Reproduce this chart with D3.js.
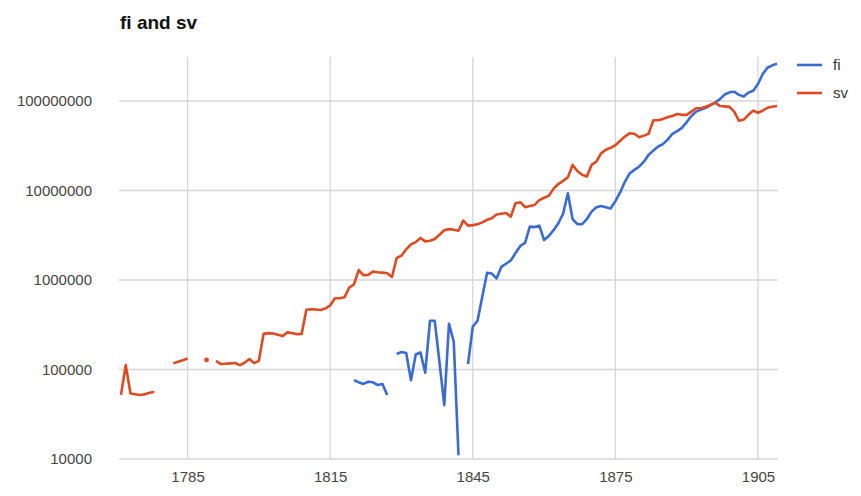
<!DOCTYPE html>
<html>
    <head>
        <meta charset="UTF-8">
        <script src="https://d3js.org/d3.v7.min.js"></script>
        <style>
            body { margin: 0; background: #fff; }
            text { font-family: "Liberation Sans", Arial, sans-serif; }
        </style>
    </head>

    <body>

        <svg id="canvas"></svg>

        <script>

            width = 861;
            height = 496;

            // one value per year, 1771 .. 1909 (null = no data)
            firstYear = 1771;
            lastYear = 1909;

            fi = [
                null, null, null, null, null, null, null, null, null, null,       // 1771-1780
                null, null, null, null, null, null, null, null, null, null,       // 1781-1790
                null, null, null, null, null, null, null, null, null, null,       // 1791-1800
                null, null, null, null, null, null, null, null, null, null,       // 1801-1810
                null, null, null, null, null, null, null, null, null,             // 1811-1819
                76000, 72000, 69000, 73000, 72000, 67000, 69000, 52000, null,     // 1820-1828
                149000, 157000, 153000, 76000, 147000, 155000, 92000,             // 1829-1835
                350000, 350000, 120000, 40000, 325000, 204000, 11000, null,       // 1836-1843
                115000, 300000, 350000, 650000, 1200000, 1180000, 1040000,        // 1844-1850
                1400000, 1520000, 1650000, 2000000, 2400000, 2600000, 3950000,    // 1851-1857
                3900000, 4050000, 2800000, 3100000, 3600000, 4300000, 5500000,    // 1858-1864
                9300000, 4800000, 4200000, 4200000, 4800000, 5800000, 6500000,    // 1865-1871
                6700000, 6500000, 6300000, 7600000, 9500000, 12500000, 15500000,  // 1872-1878
                17000000, 18500000, 21000000, 25000000, 28000000, 31000000,       // 1879-1884
                33000000, 37000000, 43000000, 46000000, 50000000, 58000000,       // 1885-1890
                68000000, 76000000, 80000000, 84000000, 90000000, 96000000,       // 1891-1896
                105000000, 118000000, 125000000, 127000000, 117000000, 112000000, // 1897-1902
                124000000, 130000000, 155000000, 200000000, 235000000, 250000000, // 1903-1908
                260000000                                                         // 1909
            ];

            sv = [
                52000, 112000, 54000, 53000, 52000, 53000, 55000, 56000,          // 1771-1778
                null, null, null,                                                 // 1779-1781
                117000, 122000, 127000, 133000, null, null, null, 128000, null,   // 1782-1790
                125000, 115000, 116000, 117000, 118000, 112000, 119000, 131000,   // 1791-1798
                118000, 125000, 250000, 255000, 252000, 245000, 236000, 260000,   // 1799-1806
                255000, 248000, 250000, 465000, 472000, 468000, 462000, 480000,   // 1807-1814
                520000, 625000, 625000, 640000, 820000, 890000, 1290000, 1130000, // 1815-1822
                1140000, 1240000, 1220000, 1210000, 1190000, 1080000, 1760000,    // 1823-1829
                1870000, 2200000, 2500000, 2650000, 2950000, 2700000, 2750000,    // 1830-1836
                2870000, 3200000, 3600000, 3700000, 3650000, 3550000, 4600000,    // 1837-1843
                4050000, 4100000, 4200000, 4400000, 4700000, 4900000, 5400000,    // 1844-1850
                5500000, 5600000, 5100000, 7200000, 7400000, 6500000, 6700000,    // 1851-1857
                6900000, 7800000, 8300000, 8700000, 10500000, 11800000, 12800000, // 1858-1864
                14000000, 19300000, 16500000, 15000000, 14300000, 19300000,       // 1865-1870
                21000000, 26000000, 28500000, 30000000, 32000000, 36000000,       // 1871-1876
                40000000, 43600000, 43000000, 39300000, 41000000, 43000000,       // 1877-1882
                61000000, 61000000, 63000000, 66000000, 68000000, 71500000,       // 1883-1888
                70000000, 70000000, 76000000, 83000000, 83000000, 86000000,       // 1889-1894
                90000000, 96000000, 88000000, 87000000, 86000000, 76000000,       // 1895-1900
                60000000, 62000000, 70000000, 78000000, 74000000, 78000000,       // 1901-1906
                84000000, 86000000, 88000000                                      // 1907-1909
            ];

            years = d3.range(firstYear, lastYear + 1);
            xTicks = [1785, 1815, 1845, 1875, 1905];
            yTicks = [10000, 100000, 1000000, 10000000, 100000000];

            seriesNames = ["fi", "sv"];
            seriesColors = ["#3a6bd4", "#de4a22"];

            left = 121; right = 777; top_ = 57; bottom = 459;

            canvas = d3.select("#canvas")
                .attr("width", width)
                .attr("height", height);

            x = d3.scaleLinear().domain([firstYear, lastYear]).range([left, right]);
            y = d3.scaleLog().domain([10000, 310000000]).range([bottom, top_]);

            canvas.append("text")
                .attr("x", 120).attr("y", 29)
                .attr("font-size", 19).attr("font-weight", "bold")
                .attr("fill", "#111")
                .text("fi and sv");

            // grid
            canvas.append("g").selectAll("line").data(xTicks).enter().append("line")
                .attr("x1", d => x(d)).attr("x2", d => x(d))
                .attr("y1", top_).attr("y2", bottom)
                .attr("stroke", "#d6d6d6").attr("stroke-width", 1.3);

            canvas.append("g").selectAll("line").data(yTicks).enter().append("line")
                .attr("x1", left - 2).attr("x2", right + 1)
                .attr("y1", d => y(d)).attr("y2", d => y(d))
                .attr("stroke", "#d6d6d6").attr("stroke-width", 1.3);

            // axes (text only, google-chart style)
            xAxis = d3.axisBottom(x).tickValues(xTicks).tickFormat(d3.format("d")).tickSize(0).tickPadding(12);
            gx = canvas.append("g").attr("transform", "translate(0," + bottom + ")").call(xAxis);
            gx.select(".domain").remove();
            gx.selectAll("text").attr("font-size", 15).attr("fill", "#444")
                .style("font-family", "Liberation Sans, Arial, sans-serif");

            yAxis = d3.axisLeft(y).tickValues(yTicks).tickFormat(d3.format("d")).tickSize(0).tickPadding(29);
            gy = canvas.append("g").attr("transform", "translate(" + left + ",0)").call(yAxis);
            gy.select(".domain").remove();
            gy.selectAll("text").attr("font-size", 15).attr("fill", "#444")
                .style("font-family", "Liberation Sans, Arial, sans-serif");

            // lines
            line = d3.line()
                .defined(d => d.v != null)
                .x(d => x(d.year))
                .y(d => y(d.v));

            [fi, sv].forEach((vals, i) => {
                pts = years.map((yr, k) => ({year: yr, v: vals[k]}));
                canvas.append("path")
                    .datum(pts)
                    .attr("d", line)
                    .attr("fill", "none")
                    .attr("stroke", seriesColors[i])
                    .attr("stroke-width", 2.6)
                    .attr("stroke-linejoin", "round");
                // lone points with no neighbours
                lone = pts.filter((d, k) => d.v != null &&
                    (k == 0 || pts[k - 1].v == null) &&
                    (k == pts.length - 1 || pts[k + 1].v == null));
                canvas.append("g").selectAll("circle").data(lone).enter().append("circle")
                    .attr("cx", d => x(d.year)).attr("cy", d => y(d.v))
                    .attr("r", 2.4).attr("fill", seriesColors[i]);
            });

            // legend
            legend = canvas.append("g").selectAll("g").data(seriesNames).enter().append("g")
                .attr("transform", (d, i) => "translate(797," + (65 + i * 28) + ")");
            legend.append("line")
                .attr("x1", 0).attr("x2", 25)
                .attr("stroke", (d, i) => seriesColors[i]).attr("stroke-width", 2.6);
            legend.append("text")
                .attr("x", 36).attr("y", 5)
                .attr("font-size", 15).attr("fill", "#333")
                .text(d => d);

        </script>

    </body>

</html>
